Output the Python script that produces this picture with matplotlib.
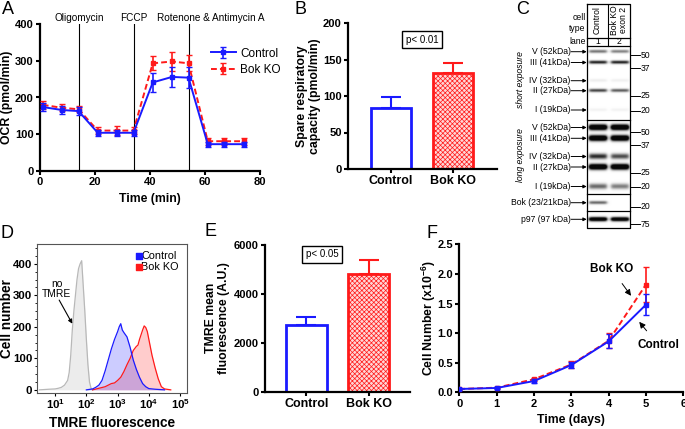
import numpy as np
import matplotlib
matplotlib.use("Agg")
import matplotlib.pyplot as plt

plt.rcParams['font.family'] = ['Liberation Sans', 'DejaVu Sans']
plt.rcParams['hatch.linewidth'] = 0.5
plt.rcParams['mathtext.fontset'] = 'custom'
plt.rcParams['mathtext.rm'] = 'Liberation Sans'
plt.rcParams['mathtext.bf'] = 'Liberation Sans:bold'

W, H = 685, 429
BLUE = '#1a1aff'
RED = '#ff1a1a'

# ---- panel A: OCR trace ----
a_time = [1, 8, 14, 21, 28, 34, 41, 48, 54, 61, 67, 74]
a_ctrl = [174, 166, 163, 104, 104, 104, 241, 256, 254, 73, 73, 73]
a_ctrl_err = [12, 12, 10, 8, 8, 8, 25, 28, 28, 7, 7, 7]
a_ko = [180, 172, 168, 110, 110, 110, 293, 298, 293, 81, 81, 81]
a_ko_err = [10, 10, 8, 10, 12, 10, 19, 26, 22, 10, 10, 10]
a_inject_t = [14.3, 34.0, 54.3]
a_inject_lbl = ['Oligomycin', 'FCCP', 'Rotenone & Antimycin A']
a_lbl_x = [14.3, 34.0, 62.0]

# ---- panel B: spare capacity ----
groups = ['Control', 'Bok KO']
b_vals = [84, 132]
b_err = [15, 13]

# ---- panel C: blot ----
band_names = ['V (52kDa)', 'III (41kDa)', 'IV (32kDa)', 'II (27kDa)', 'I (19kDa)']
short_y = [51.7, 62.5, 80.7, 90.7, 110.0]
long_y = [127.5, 138.3, 156.5, 167.0, 186.5]
short_lane1 = [0.55, 0.9, 0.07, 0.75, 0.05]
short_lane2 = [0.5, 0.9, 0.06, 0.65, 0.05]
long_lane1 = [1.0, 1.0, 0.5, 1.0, 0.35]
long_lane2 = [1.0, 1.0, 0.42, 1.0, 0.3]
bok_y, bok_int = 202.7, [0.6, 0.0]
p97_y, p97_int = 219.3, [1.0, 0.95]
short_mk = [('50', 55.3), ('37', 68.3), ('25', 96.0), ('20', 110.7)]
long_mk = [('50', 132.3), ('37', 145.0), ('25', 172.7), ('20', 186.7)]
other_mk = [('20', 206.7), ('75', 224.3)]

# ---- panel D: TMRE histograms (log10 fluorescence, cell count) ----
gray_log = [0.5, 0.8, 1.0, 1.1, 1.2, 1.3, 1.4, 1.45, 1.5, 1.55, 1.6, 1.65, 1.7, 1.75,
            1.8, 1.85, 1.9, 1.95, 2.0, 2.05, 2.1, 2.15, 2.2]
gray_cnt = [0, 2, 3, 5, 8, 15, 30, 55, 110, 190, 250, 300, 350, 385, 400, 410, 330,
            250, 160, 80, 25, 5, 0]
ctrl_log = [2.0, 2.2, 2.3, 2.4, 2.5, 2.6, 2.7, 2.8, 2.9, 3.0, 3.05, 3.1, 3.15, 3.2,
            3.3, 3.4, 3.5, 3.6, 3.7, 3.8, 3.9, 4.0, 4.2, 4.5]
ctrl_cnt = [0, 3, 8, 15, 30, 60, 95, 130, 160, 185, 200, 210, 190, 182, 168, 135,
            95, 65, 40, 20, 10, 4, 2, 0]
ko_log = [2.2, 2.4, 2.6, 2.7, 2.8, 2.9, 3.0, 3.1, 3.2, 3.3, 3.4, 3.5, 3.6, 3.65, 3.7,
          3.8, 3.85, 3.9, 3.95, 4.0, 4.1, 4.2, 4.3, 4.4, 4.5, 4.7]
ko_cnt = [0, 5, 10, 15, 20, 22, 30, 40, 58, 80, 100, 125, 138, 142, 160, 190, 203,
          198, 185, 160, 110, 70, 35, 10, 3, 0]
d_decades = [1, 2, 3, 4, 5]

# ---- panel E: TMRE mean ----
e_vals = [2730, 4800]
e_err = [320, 570]

# ---- panel F: growth ----
f_days = [0, 1, 2, 3, 4, 5]
f_ctrl = [0.056, 0.073, 0.19, 0.46, 0.86, 1.48]
f_ctrl_err = [0.01, 0.01, 0.03, 0.05, 0.12, 0.18]
f_ko = [0.056, 0.078, 0.22, 0.47, 0.87, 1.82]
f_ko_err = [0.01, 0.01, 0.03, 0.06, 0.13, 0.30]

fig = plt.figure(figsize=(W / 100, H / 100), dpi=100)

TICKFS = 8
LABFS = 8.8
SMALL = 6.2


def px_axes(l, t, r, b):
    return fig.add_axes([l / W, 1 - b / H, (r - l) / W, (b - t) / H])


def ftext(x, y, s, **kw):
    fig.text(x / W, 1 - y / H, s, **kw)


def place_labels(ax, ylx=None, xly=None):
    # put axis labels at fixed axes-fraction spots, centred there
    if ylx is not None:
        ax.yaxis.set_label_coords(ylx, 0.5)
        ax.yaxis.label.set_verticalalignment('center')
    if xly is not None:
        ax.xaxis.set_label_coords(0.5, xly)
        ax.xaxis.label.set_verticalalignment('center')


def prism_style(ax):
    for s in ['top', 'right']:
        ax.spines[s].set_visible(False)
    for s in ['left', 'bottom']:
        ax.spines[s].set_linewidth(1.6)
    ax.tick_params(direction='out', length=3, width=1.5, labelsize=TICKFS, pad=1.5)
    for lab in ax.get_xticklabels() + ax.get_yticklabels():
        lab.set_fontweight('bold')


def bar_panel(ax, vals, errs):
    # one-sided error bars behind open / hatched bars
    for i, c in enumerate([BLUE, RED]):
        ax.errorbar([i], [vals[i]], yerr=[[0], [errs[i]]], fmt='none', ecolor=c,
                    elinewidth=1.5, capsize=7, capthick=1.5, zorder=1)
    bars = ax.bar(range(len(vals)), vals, width=0.65, color=['white', '#ffd6d6'],
                  edgecolor=[BLUE, RED], linewidth=2, zorder=2)
    bars[1].set_hatch('xxxxxxx')


# A
ax = px_axes(40, 24, 260, 171)
for t in a_inject_t:
    ax.axvline(t, color='k', lw=0.8, zorder=1)
for x, s in zip(a_lbl_x, a_inject_lbl):
    ax.text(x, 403, s, ha='center', va='bottom', fontsize=7.2)
ax.errorbar(a_time, a_ko, yerr=a_ko_err, color=RED, ls=(0, (3, 1.6)), lw=1.4,
            marker='s', ms=2.5, capsize=2, elinewidth=1.2, label='Bok KO', zorder=3)
ax.errorbar(a_time, a_ctrl, yerr=a_ctrl_err, color=BLUE, lw=1.4, marker='s', ms=2.5,
            capsize=2, elinewidth=1.2, label='Control', zorder=4)
ax.set_xlim(0, 80)
ax.set_ylim(0, 400)
ax.set_xticks([0, 20, 40, 60, 80])
ax.set_yticks([0, 100, 200, 300, 400])
ax.set_xlabel('Time (min)', fontsize=LABFS, fontweight='bold')
ax.set_ylabel('OCR (pmol/min)', fontsize=LABFS, fontweight='bold')
place_labels(ax, -0.148, -0.19)
prism_style(ax)
h, l = ax.get_legend_handles_labels()
ax.legend(h[::-1], l[::-1], loc='upper left', bbox_to_anchor=(0.75, 0.88), frameon=False,
          fontsize=8.5, handlelength=2.1, handletextpad=0.4, labelspacing=0.35,
          borderpad=0)

# B
ax = px_axes(348, 23, 497, 169)
xs = np.arange(len(groups))
bar_panel(ax, b_vals, b_err)
ax.set_xlim(-0.69, 1.71)
ax.set_ylim(0, 200)
ax.set_yticks([0, 50, 100, 150, 200])
ax.set_xticks(xs)
ax.set_xticklabels(groups)
ax.set_ylabel('Spare respiratory\ncapacity (pmol/min)', fontsize=LABFS,
              fontweight='bold', linespacing=1.1)
place_labels(ax, -0.265)
prism_style(ax)
for lab in ax.get_xticklabels():
    lab.set_fontsize(9)
ax.text(0.5, 177, 'p< 0.01', ha='center', va='center', fontsize=7,
        bbox=dict(boxstyle='square,pad=0.35', fc='white', ec='k', lw=1))

# C blot
ax = px_axes(586.7, 3.5, 630, 228)
ax.set_xlim(0.5, 2.5)
ax.set_ylim(228, 3.5)
ax.axis('off')
gx = np.linspace(0.5, 2.5, 200)
gy = np.linspace(3.5, 228, 900)
GX, GY = np.meshgrid(gx, gy)
dark = np.zeros_like(GX)


def lane_profile(c, half=0.4):
    return 1 / (1 + np.exp(-(GX - (c - half)) / 0.04)) / (1 + np.exp((GX - (c + half)) / 0.04))


def add_band(lane, y, inten, sy):
    global dark
    dark += inten * np.exp(-((GY - y) / sy) ** 2) * lane_profile(lane)


for i in range(len(band_names)):
    add_band(1, short_y[i], short_lane1[i], 1.6)
    add_band(2, short_y[i], short_lane2[i], 1.6)
    add_band(1, long_y[i], long_lane1[i] * 1.7, 2.7)
    add_band(2, long_y[i], long_lane2[i] * 1.7, 2.7)
add_band(1, bok_y, bok_int[0], 1.6)
add_band(2, bok_y, bok_int[1], 1.6)
add_band(1, p97_y, p97_int[0] * 1.5, 2.0)
add_band(2, p97_y, p97_int[1] * 1.5, 2.0)
img = 1 - np.clip(dark, 0, 0.97)
img[GY < 45.7] = 1
ax.imshow(img, cmap='gray', vmin=0, vmax=1, extent=(0.5, 2.5, 228, 3.5),
          aspect='auto', interpolation='bilinear')
for yline in [37.5, 45.7, 120, 194.3, 210.5]:
    ax.plot([0.5, 2.5], [yline, yline], color='k', lw=0.9, clip_on=False)
ax.plot([0.5, 2.5, 2.5, 0.5, 0.5], [3.5, 3.5, 228, 228, 3.5], color='k', lw=0.9,
        clip_on=False)
ax.plot([1.5, 1.5], [3.5, 45.7], color='k', lw=0.8)
ax.text(1.0, 20, 'Control', rotation=90, ha='center', va='center', fontsize=SMALL)
ax.text(2.0, 20, 'Bok KO\nexon 2', rotation=90, ha='center', va='center', fontsize=SMALL,
        linespacing=0.95)
ax.text(1.0, 41.6, '1', ha='center', va='center', fontsize=SMALL)
ax.text(2.0, 41.6, '2', ha='center', va='center', fontsize=SMALL)
for s, yy in [('cell', 18), ('type', 28.5), ('lane', 41.6)]:
    ax.text(0.45, yy, s, ha='right', va='center', fontsize=SMALL)
left_lbls = list(zip(band_names, short_y)) + list(zip(band_names, long_y)) + \
    [('Bok (23/21kDa)', bok_y), ('p97 (97 kDa)', p97_y)]
for s, yy in left_lbls:
    ax.annotate('', xy=(0.5, yy), xytext=(-0.22, yy),
                arrowprops=dict(arrowstyle='-|>', lw=0.7, color='k', mutation_scale=5,
                                shrinkA=0, shrinkB=0), annotation_clip=False)
    ax.text(-0.24, yy, s, ha='right', va='center', fontsize=SMALL)
for s, yy in short_mk + long_mk + other_mk:
    ax.plot([2.54, 2.95], [yy, yy], color='k', lw=0.7, clip_on=False)
    ax.text(2.98, yy, s, ha='left', va='center', fontsize=SMALL)
ax.text(-2.58, 80, 'short exposure', rotation=90, ha='center', va='center',
        fontsize=SMALL, style='italic')
ax.text(-2.58, 155, 'long exposure', rotation=90, ha='center', va='center',
        fontsize=SMALL, style='italic')

# D
ax = px_axes(37.3, 244, 187, 392.7)
gxv = 10 ** np.array(gray_log)
cxv = 10 ** np.array(ctrl_log)
kxv = 10 ** np.array(ko_log)
ax.fill_between(gxv, gray_cnt, color='#ececec', lw=0)
ax.plot(gxv, gray_cnt, color='#b8b8b8', lw=0.9)
ax.fill_between(kxv, ko_cnt, color=RED, alpha=0.22, lw=0)
ax.fill_between(cxv, ctrl_cnt, color=BLUE, alpha=0.22, lw=0)
ax.plot(kxv, ko_cnt, color=RED, lw=0.9)
ax.plot(cxv, ctrl_cnt, color=BLUE, lw=0.9)
ax.set_xscale('log')
ax.set_xlim(10 ** 0.43, 10 ** 5.22)
ax.set_ylim(-9, 463)
ax.set_xticks([10.0 ** d for d in d_decades])
ax.set_xticklabels([r'$\mathbf{10^{%d}}$' % d for d in d_decades])
ax.set_yticks([0, 100, 200, 300, 400])
ax.set_yticks(np.arange(0, 463, 25), minor=True)
ax.xaxis.set_minor_locator(matplotlib.ticker.LogLocator(subs=np.arange(2, 10)))
ax.xaxis.set_minor_formatter(matplotlib.ticker.NullFormatter())
for s in ax.spines.values():
    s.set_linewidth(0.8)
    s.set_color('#555555')
ax.tick_params(which='major', length=2.5, width=0.8, labelsize=8.2, pad=1)
ax.tick_params(which='minor', length=1.5, width=0.6)
for lab in ax.get_xticklabels() + ax.get_yticklabels():
    lab.set_fontweight('bold')
ax.set_xlabel('TMRE fluorescence', fontsize=9.8, fontweight='bold')
ax.set_ylabel('Cell number', fontsize=9.8, fontweight='bold')
place_labels(ax, -0.205, -0.205)
ax.text(10 ** 1.05, 320, 'no\nTMRE', ha='center', va='center', fontsize=7.4,
        linespacing=1.1)
ax.annotate('', xy=(10 ** 1.55, 210), xytext=(10 ** 1.13, 285),
            arrowprops=dict(arrowstyle='-|>', lw=0.8, color='k', mutation_scale=6,
                            shrinkA=0, shrinkB=0))
for c, s, yy in [(BLUE, 'Control', 425), (RED, 'Bok KO', 391)]:
    ax.scatter([10 ** 3.67], [yy], marker='s', s=16, color=c, zorder=5)
    ax.text(10 ** 3.76, yy, s, ha='left', va='center', fontsize=7.8)

# E
ax = px_axes(265, 245, 410, 391.7)
bar_panel(ax, e_vals, e_err)
ax.set_xlim(-0.66, 1.66)
ax.set_ylim(0, 6000)
ax.set_yticks([0, 2000, 4000, 6000])
ax.set_xticks(xs)
ax.set_xticklabels(groups)
ax.set_ylabel('TMRE mean\nfluorescence (A.U.)', fontsize=LABFS, fontweight='bold',
              linespacing=1.1)
place_labels(ax, -0.33)
prism_style(ax)
for lab in ax.get_xticklabels():
    lab.set_fontsize(9)
ax.text(0.25, 5620, 'p< 0.05', ha='center', va='center', fontsize=7,
        bbox=dict(boxstyle='square,pad=0.35', fc='white', ec='k', lw=1))

# F
ax = px_axes(459.3, 244.3, 683.3, 392.3)
ax.errorbar(f_days, f_ko, yerr=f_ko_err, color=RED, ls=(0, (3, 1.6)), lw=1.4,
            marker='s', ms=2.5, capsize=2, elinewidth=1.2, zorder=3)
ax.errorbar(f_days, f_ctrl, yerr=f_ctrl_err, color=BLUE, lw=1.4, marker='s', ms=2.5,
            capsize=2, elinewidth=1.2, zorder=4)
ax.set_xlim(0, 6)
ax.set_ylim(0, 2.5)
ax.set_xticks(range(7))
ax.set_yticks([0, 0.5, 1.0, 1.5, 2.0, 2.5])
ax.yaxis.set_major_formatter(matplotlib.ticker.FormatStrFormatter('%.1f'))
ax.set_xlabel('Time (days)', fontsize=LABFS, fontweight='bold')
ax.set_ylabel(r'Cell Number (x10$^{\mathbf{-6}}$)', fontsize=LABFS, fontweight='bold')
place_labels(ax, -0.135, -0.187)
prism_style(ax)
ax.annotate('Bok KO', xy=(4.6, 1.63), xytext=(4.08, 2.08), ha='center', va='center',
            fontsize=8.5, fontweight='bold',
            arrowprops=dict(arrowstyle='-|>', lw=0.7, color='k', mutation_scale=9,
                            shrinkA=5, shrinkB=0))
ax.annotate('Control', xy=(4.82, 1.19), xytext=(5.33, 0.80), ha='center', va='center',
            fontsize=8.5, fontweight='bold',
            arrowprops=dict(arrowstyle='-|>', lw=0.7, color='k', mutation_scale=9,
                            shrinkA=5, shrinkB=0))

# panel letters
for s, x, y in [('A', 2, 10), ('B', 294, 9), ('C', 516, 9), ('D', 0, 233),
                ('E', 204, 231), ('F', 427, 234)]:
    ftext(x, y, s, fontsize=13, ha='left', va='center')

fig.savefig('out.png', dpi=100)
